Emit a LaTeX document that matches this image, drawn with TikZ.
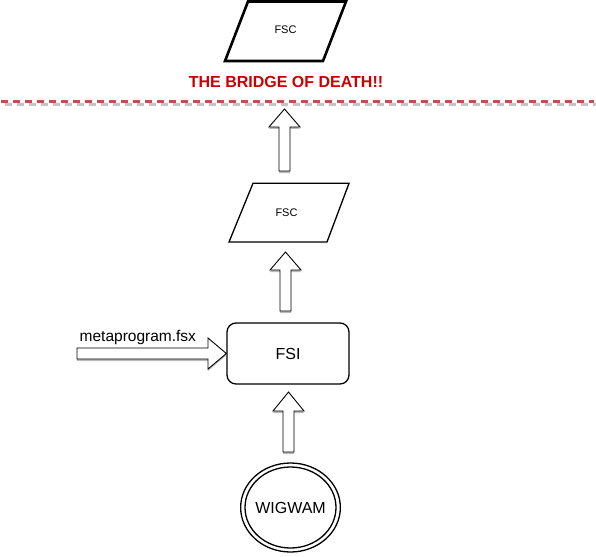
\documentclass[tikz,border=0pt]{standalone}
\usepackage{fontspec}
\setmainfont{Liberation Sans}
\usetikzlibrary{shadows,shapes.geometric}
\definecolor{deathred}{HTML}{CC0000}
\definecolor{bridgeline}{HTML}{B85450}
\definecolor{shadowgrey}{HTML}{C4C4C4}
\newcommand\vblockarrow[4]{% center x, tip y, head base y, bottom y
  \draw[blockarrow] (#1,#2) -- (#1+15.5,#3) -- (#1+5.5,#3) -- (#1+5.5,#4) -- (#1-5.5,#4) -- (#1-5.5,#3) -- (#1-15.5,#3) -- cycle;}
\begin{document}
\begin{tikzpicture}[x=1pt,y=-1pt,
  blockarrow/.style={draw=black, line width=0.9pt, fill=white, line join=miter,
    drop shadow={shadow xshift=0pt, shadow yshift=-2pt, fill=gray!55, opacity=1}},
  lbl/.style={inner sep=0pt, text=black},
  para/.style={draw=black, fill=white, line join=miter}]
\useasboundingbox (0,0) rectangle (596,556);
% top parallelogram
\draw[para, line width=2.6pt] (248,1.5) -- (346,1.5) -- (323,61) -- (225,61) -- cycle;
\node[lbl, font=\fontsize{11}{13}\selectfont, anchor=base] (fsc1) at (285.5,33.7) {FSC};
% bridge text
\node[lbl, text=deathred, font=\fontsize{16}{19}\selectfont\bfseries, anchor=base] (bridge) at (286,87.5) {THE BRIDGE OF DEATH!!};
% dashed bridge line
\coordinate (bl) at (1,101.5);
\coordinate (br) at (594,101.5);
\draw[shadowgrey, line width=2.2pt, dash pattern=on 7pt off 5pt] ([xshift=3.5pt,yshift=-3pt]bl) -- ([xshift=3.5pt,yshift=-3pt]br);
\draw[bridgeline, line width=2.2pt, dash pattern=on 7pt off 5pt] (bl) -- (br);
% arrow 1
\vblockarrow{284.5}{109}{127}{171}
% middle parallelogram
\draw[para, line width=1.3pt] (253,183.3) -- (349,183.3) -- (327,242) -- (229,242) -- cycle;
\node[lbl, font=\fontsize{11}{13}\selectfont, anchor=base] (fsc2) at (286.5,216.7) {FSC};
% arrow 2
\vblockarrow{285.5}{252}{270}{311}
% FSI box
\node[draw=black, line width=1.3pt, rounded corners=9pt, minimum width=122pt, minimum height=61pt,
  font=\fontsize{16}{19}\selectfont, inner sep=0pt] (fsi) at (288,353.5) {FSI};
% metaprogram arrow
\draw[blockarrow] (fsi.west) -- (208,338) -- (208,348) -- (77,348) -- (77,359) -- (208,359) -- (208,369) -- cycle;
\node[lbl, font=\fontsize{15.5}{18}\selectfont, anchor=base west] (meta) at (79.5,341) {metaprogram.fsx};
% arrow 3
\vblockarrow{288.5}{392}{411}{452}
% WIGWAM
\node[draw=black, line width=1.3pt, ellipse, minimum width=99pt, minimum height=89pt, inner sep=0pt,
  font=\fontsize{16}{19}\selectfont] (wigwam) at (290.5,507.5) {WIGWAM};
\draw[line width=1.3pt] (wigwam.center) ellipse (45.5pt and 40.5pt);
\end{tikzpicture}
\end{document}
